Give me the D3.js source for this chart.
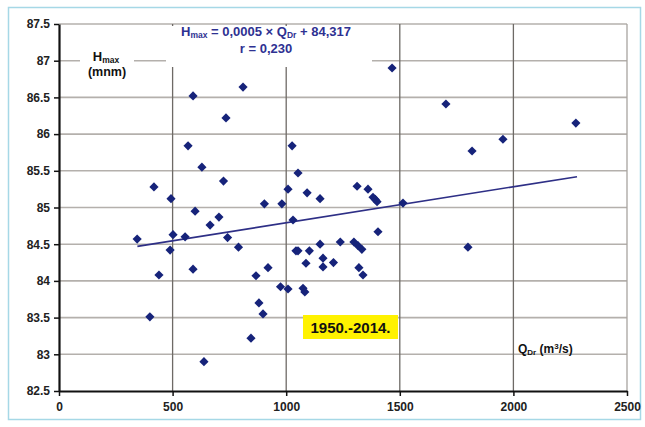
<!DOCTYPE html>
<html><head><meta charset="utf-8">
<script src="https://cdn.jsdelivr.net/npm/d3@7"></script>
<style>
html,body{margin:0;padding:0;background:#fff;}
svg{display:block;font-family:"Liberation Sans",Arial,sans-serif;}
</style></head>
<body><svg id="c" width="645" height="427"></svg>
<script>
// Data: Q_Dr (m3/s) and Hmax (m a.s.l.)
const qDr = [344,400,418,440,489,493,502,555,568,590,599,590,629,638,665,704,724,735,742,790,810,845,867,880,898,904,920,975,981,1008,1008,1026,1030,1043,1052,1052,1074,1082,1087,1092,1102,1149,1149,1162,1162,1208,1238,1298,1312,1316,1320,1333,1338,1360,1382,1392,1400,1404,1466,1514,1703,1800,1818,1954,2275];
const hMax = [84.57,83.51,85.28,84.08,84.42,85.12,84.63,84.60,85.84,86.52,84.95,84.16,85.55,82.90,84.76,84.87,85.36,86.22,84.59,84.46,86.64,83.22,84.07,83.70,83.55,85.05,84.18,83.92,85.05,83.89,85.25,85.84,84.83,84.41,84.41,85.47,83.90,83.85,84.24,85.20,84.41,85.12,84.50,84.31,84.19,84.25,84.53,84.53,85.29,84.48,84.18,84.43,84.08,85.25,85.14,85.11,85.08,84.67,86.90,85.06,86.41,84.46,85.77,85.93,86.15];
const trendX = [345, 2280];
const trendY = [84.47, 85.42];
const xTicks = [0,500,1000,1500,2000,2500];
const yTicks = [82.5,83,83.5,84,84.5,85,85.5,86,86.5,87,87.5];
const yTickLabels = ["82.5","83","83.5","84","84.5","85","85.5","86","86.5","87","87.5"];
const periodLabel = "1950.-2014.";

const svg = d3.select("#c");
const L=59, R=627, T=24, B=391;
const x = d3.scaleLinear().domain([0,2500]).range([L,R]);
const y = d3.scaleLinear().domain([82.5,87.5]).range([B,T]);

// outer frame
svg.append("rect").attr("x",8.5).attr("y",7.5).attr("width",632).attr("height",412)
  .attr("fill","none").attr("stroke","#a6d8e6").attr("stroke-width",1.5);

const g = svg.append("g");
// horizontal grid
g.selectAll(".hg").data(yTicks.filter(d=>d>82.5)).join("line")
  .attr("x1",L).attr("x2",R).attr("y1",d=>y(d)).attr("y2",d=>y(d))
  .attr("stroke","#b4b0ac").attr("stroke-width",1.6);
// vertical grid
g.selectAll(".vg").data(xTicks.filter(d=>d>0)).join("line")
  .attr("x1",d=>x(d)).attr("x2",d=>x(d)).attr("y1",T).attr("y2",B)
  .attr("stroke",d=>d===2500?"#a8a4a0":"#6e6a66").attr("stroke-width",1.3);

// white boxes for labels
g.append("rect").attr("x",166).attr("y",T+2).attr("width",206).attr("height",41).attr("fill","#fff");
g.append("rect").attr("x",80).attr("y",46).attr("width",54).attr("height",32).attr("fill","#fff");

// axes
const xAxis = d3.axisBottom(x).tickValues(xTicks).tickFormat(d=>String(d)).tickSize(5).tickSizeOuter(0).tickPadding(6);
const yAxis = d3.axisLeft(y).tickValues(yTicks).tickFormat((d,i)=>yTickLabels[i]).tickSize(5).tickSizeOuter(0).tickPadding(4);
const gx = svg.append("g").attr("transform",`translate(0,${B})`).call(xAxis);
const gy = svg.append("g").attr("transform",`translate(${L},0)`).call(yAxis);
[gx,gy].forEach(a=>{
  a.select(".domain").attr("stroke","#111").attr("stroke-width",2.2);
  a.selectAll(".tick line").attr("stroke","#111").attr("stroke-width",1.5);
  a.selectAll(".tick text").attr("fill","#222").style("font-size","12px").style("font-weight","bold")
   .style("font-family","'Liberation Sans',Arial,sans-serif");
});

// trend line
svg.append("line").attr("x1",x(trendX[0])).attr("y1",y(trendY[0]))
  .attr("x2",x(trendX[1])).attr("y2",y(trendY[1]))
  .attr("stroke","#2e2f86").attr("stroke-width",1.6);

// points
const sym = d3.symbol().type(d3.symbolSquare).size(42);
svg.append("g").selectAll("path").data(qDr.map((q,i)=>[q,hMax[i]])).join("path")
  .attr("d",sym)
  .attr("transform",d=>`translate(${x(d[0])},${y(d[1])}) rotate(45)`)
  .attr("fill","#16237a");

// equation text
const eq = svg.append("text").attr("x",266).attr("y",36).attr("text-anchor","middle")
  .attr("fill","#2e3192").style("font-size","13px").style("font-weight","bold");
eq.append("tspan").text("H");
eq.append("tspan").text("max").style("font-size","8.5px").attr("dy",2);
eq.append("tspan").text(" = 0,0005 × Q").attr("dy",-2);
eq.append("tspan").text("Dr").style("font-size","8.5px").attr("dy",2);
eq.append("tspan").text(" + 84,317").attr("dy",-2);
svg.append("text").attr("x",266).attr("y",53).attr("text-anchor","middle")
  .attr("fill","#2e3192").style("font-size","13px").style("font-weight","bold").text("r = 0,230");

// Hmax label
const hl = svg.append("text").attr("x",106).attr("y",61).attr("text-anchor","middle")
  .attr("fill","#111").style("font-size","13px").style("font-weight","bold");
hl.append("tspan").text("H");
hl.append("tspan").text("max").style("font-size","8.5px").attr("dy",2);
svg.append("text").attr("x",107).attr("y",76).attr("text-anchor","middle")
  .attr("fill","#111").style("font-size","12.5px").style("font-weight","bold").text("(mnm)");

// Q label
const ql = svg.append("text").attr("x",518).attr("y",353)
  .attr("fill","#111").style("font-size","12px").style("font-weight","bold");
ql.append("tspan").text("Q");
ql.append("tspan").text("Dr").style("font-size","8px").attr("dy",2);
ql.append("tspan").text(" (m").attr("dy",-2);
ql.append("tspan").text("3").style("font-size","8px").attr("dy",-4);
ql.append("tspan").text("/s)").attr("dy",4);

// period box
svg.append("rect").attr("x",303).attr("y",315).attr("width",95).attr("height",24).attr("fill","#fff200");
svg.append("text").attr("x",350.5).attr("y",333).attr("text-anchor","middle")
  .attr("fill","#111").style("font-size","15px").style("font-weight","bold").text(periodLabel);
</script></body></html>
